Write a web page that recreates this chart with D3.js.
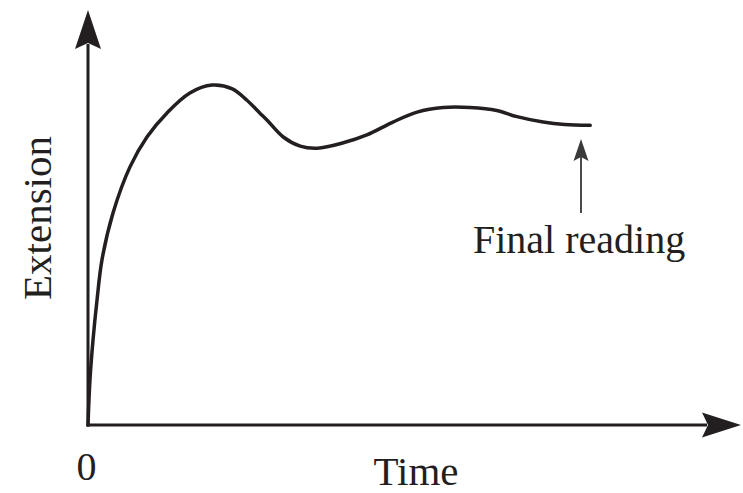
<!DOCTYPE html>
<html>
<head>
<meta charset="utf-8">
<script src="https://cdn.jsdelivr.net/npm/d3@7"></script>
<style>
  html, body { margin: 0; padding: 0; background: #fff; }
  svg { display: block; }
  text { font-family: "Liberation Serif", "Times New Roman", serif; fill: #231f20; }
</style>
</head>
<body>
<svg id="chart" width="743" height="493"></svg>
<script>
// ---- data ----
const time =      [0, 0.03, 0.077, 0.138, 0.214, 0.383, 0.643, 0.903, 1.21, 1.56, 1.90, 2.21, 2.43, 2.63, 2.74, 2.99, 3.25, 3.51, 3.91, 4.27, 4.67, 5.04, 5.44, 5.85, 6.26, 6.57, 6.97, 7.30, 7.69];
const extension = [0, 1.08, 2.05, 3.01, 3.98, 5.11, 6.22, 6.94, 7.52, 8.00, 8.19, 8.10, 7.83, 7.52, 7.35, 6.94, 6.72, 6.67, 6.80, 6.99, 7.30, 7.54, 7.65, 7.65, 7.58, 7.43, 7.30, 7.24, 7.22];
const xTickValues = [0];
const xTickLabels = ["0"];
const xLabel = "Time";
const yLabel = "Extension";
const annotationText = "Final reading";
const annotationTime = [7.55];

// ---- layout ----
const svg = d3.select("#chart");
const ink = "#231f20";
const x = d3.scaleLinear().domain([0, 10]).range([88, 741]);
const y = d3.scaleLinear().domain([0, 10]).range([425, 10]);

const x0 = x(0), y0 = y(0);
const xEnd = x.range()[1], yEnd = y.range()[1];

svg.append("line").attr("x1", x0).attr("y1", y0 + 1.5).attr("x2", x0).attr("y2", yEnd + 34)
  .attr("stroke", ink).attr("stroke-width", 3);
svg.append("line").attr("x1", x0 - 1.5).attr("y1", y0).attr("x2", xEnd - 34).attr("y2", y0)
  .attr("stroke", ink).attr("stroke-width", 3);

svg.append("path")
  .attr("d", `M${x0},${yEnd} L${x0 + 13},${yEnd + 39} L${x0},${yEnd + 33} L${x0 - 13},${yEnd + 39} Z`)
  .attr("fill", ink);
svg.append("path")
  .attr("d", `M${xEnd},${y0} L${xEnd - 39},${y0 - 12.5} L${xEnd - 33},${y0} L${xEnd - 39},${y0 + 12.5} Z`)
  .attr("fill", ink);

const xAxis = d3.axisBottom(x).tickValues(xTickValues).tickFormat((d, i) => xTickLabels[i]).tickSize(0).tickPadding(0);
const gx = svg.append("g").attr("transform", `translate(0,${y0})`).call(xAxis);
gx.select(".domain").remove();
gx.selectAll("text")
  .attr("font-family", "Liberation Serif, serif")
  .attr("font-size", 40)
  .attr("fill", ink)
  .attr("dy", null)
  .attr("y", 55)
  .attr("x", -2);

svg.append("text").attr("x", 416).attr("y", 485).attr("text-anchor", "middle")
  .attr("font-size", 41).text(xLabel);
svg.append("text").attr("transform", `translate(51,218) rotate(-90)`).attr("text-anchor", "middle")
  .attr("font-size", 41).text(yLabel);

const data = time.map((t, i) => ({ t, e: extension[i] }));
const line = d3.line().x(d => x(d.t)).y(d => y(d.e)).curve(d3.curveCatmullRom.alpha(0.5));
svg.append("path").datum(data).attr("d", line)
  .attr("fill", "none").attr("stroke", ink).attr("stroke-width", 3.5)
  .attr("stroke-linecap", "round").attr("stroke-linejoin", "round");

const ax = x(annotationTime[0]);
const tipY = 139;
svg.append("line").attr("x1", ax).attr("y1", 213).attr("x2", ax).attr("y2", tipY + 16)
  .attr("stroke", "#4a4a4a").attr("stroke-width", 2);
svg.append("path")
  .attr("d", `M${ax},${tipY} L${ax + 7.5},${tipY + 22} L${ax},${tipY + 18} L${ax - 7.5},${tipY + 22} Z`)
  .attr("fill", "#3a3a3a");
svg.append("text").attr("x", 473).attr("y", 253).attr("font-size", 40).text(annotationText);
</script>
</body>
</html>
